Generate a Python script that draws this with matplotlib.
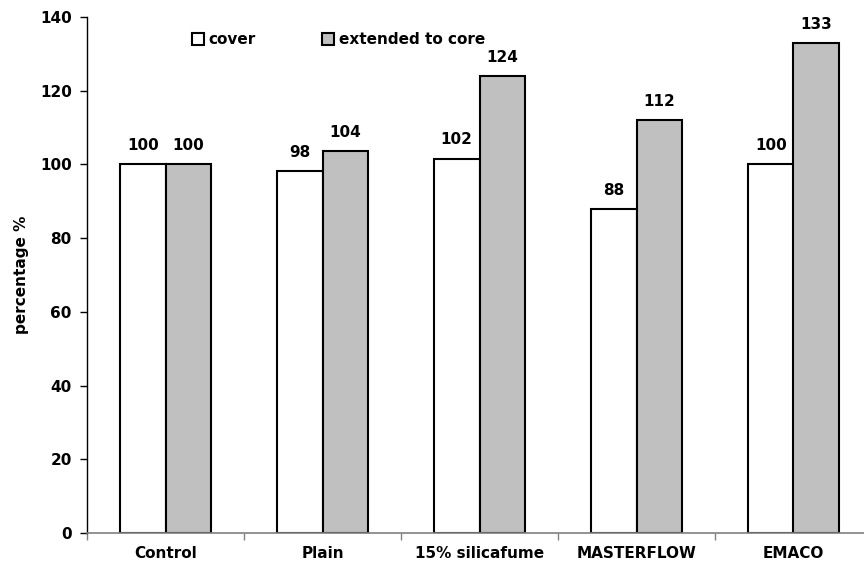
import numpy as np
import matplotlib
matplotlib.use('Agg')
import matplotlib.pyplot as plt

categories = ['Control', 'Plain', '15% silicafume', 'MASTERFLOW', 'EMACO']
cover = [100, 98.3, 101.6, 88, 100]
core = [100, 103.7, 124, 112, 133]
series_names = ['cover', 'extended to core']

plt.rcParams['font.family'] = 'DejaVu Sans'
plt.rcParams['font.weight'] = 'bold'
plt.rcParams['font.size'] = 11

fig = plt.figure(figsize=(8.64, 5.69), dpi=100)
ax = fig.add_axes([87/864, 36/569, 785/864, 516/569])

x = np.arange(len(categories))
w = 0.29
b1 = ax.bar(x - w/2, cover, w, color='white', edgecolor='black', linewidth=1.5, label=series_names[0])
b2 = ax.bar(x + w/2, core, w, color='#c0c0c0', edgecolor='black', linewidth=1.5, label=series_names[1])

for bars in (b1, b2):
    for r in bars:
        ax.annotate('%.0f' % r.get_height(), (r.get_x() + r.get_width()/2, r.get_height()),
                    xytext=(0, 8), textcoords='offset points', ha='center', va='bottom',
                    fontweight='bold', fontsize=11)

ax.set_xlim(-0.5, len(categories) - 0.5)
ax.set_ylim(0, 140)
ax.set_yticks(range(0, 141, 20))
ax.set_xticks(x)
ax.set_xticklabels(categories, fontweight='bold')
ax.set_xticks(np.arange(-0.5, len(categories), 1), minor=True)
ax.tick_params(axis='x', which='major', length=0, pad=9)
ax.tick_params(axis='x', which='minor', length=5, width=1, color='#808080', direction='out')
ax.tick_params(axis='y', length=5, width=1, pad=6)

ax.spines['top'].set_visible(False)
ax.spines['right'].set_visible(False)
ax.spines['bottom'].set_color('#808080')
ax.spines['bottom'].set_linewidth(1.2)
ax.spines['left'].set_linewidth(1)

ax.set_ylabel('percentage %', fontweight='bold', fontsize=11, labelpad=8)

fig.legend(loc='upper left', bbox_to_anchor=(192/864, 1 - 32/569), ncol=2, frameon=False,
           handlelength=0.8, handleheight=0.8, handletextpad=0.3, columnspacing=4.3,
           borderpad=0, borderaxespad=0, prop={'weight': 'bold', 'size': 11})

fig.savefig('out.png', dpi=100)
